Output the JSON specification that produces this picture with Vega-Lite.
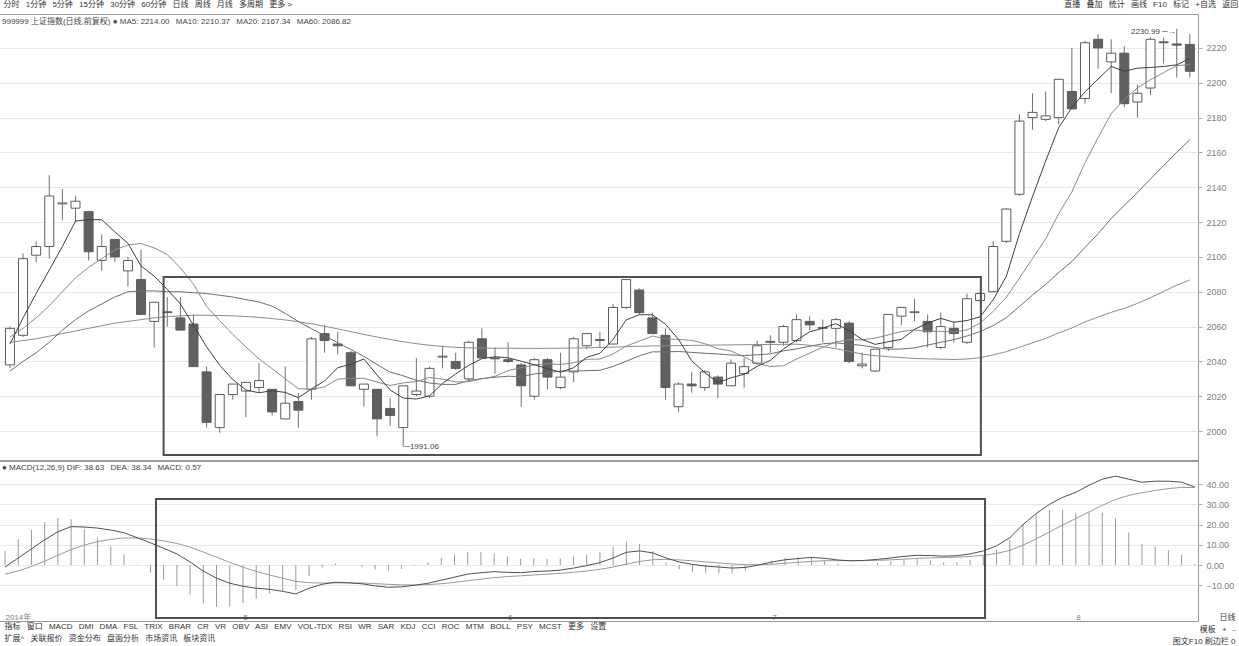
{
  "$schema": "https://vega.github.io/schema/vega-lite/v6.json",
  "padding": {"left": -3, "top": 0, "right": 0, "bottom": 0},
  "background": "white",
  "spacing": -3,
  "config": {
    "font": "Liberation Sans, Noto Sans CJK SC, sans-serif",
    "view": {"stroke": "#9a9a9a"},
    "title": {"fontWeight": "normal", "fontSize": 8, "color": "#333", "anchor": "start", "font": "Liberation Sans, Noto Sans CJK SC, sans-serif"},
    "axis": {"labelColor": "#808080", "labelFontSize": 9, "tickColor": "#aaaaaa", "domainColor": "#9a9a9a", "gridColor": "#e9e9e9", "labelFont": "Liberation Sans, Noto Sans CJK SC, sans-serif", "titleFont": "Liberation Sans, Noto Sans CJK SC, sans-serif", "labelOverlap": false}
  },
  "title": {
    "text": "分时\u2002 1分钟\u2002 5分钟\u2002 15分钟\u2002 30分钟\u2002 60分钟\u2002 日线\u2002 周线\u2002 月线\u2002 多周期\u2002 更多 >\u2003\u2003\u2003\u2003\u2003\u2003\u2003\u2003\u2003\u2003\u2003\u2003\u2003\u2003\u2003\u2003\u2003\u2003\u2003\u2003\u2003\u2003\u2003\u2003\u2003\u2003\u2003\u2003\u2003\u2003\u2003\u2003\u2003\u2003\u2003\u2003\u2003\u2003\u2003\u2003\u2003\u2003\u2003\u2003\u2003\u2003\u2003\u2003\u2003\u2003\u2003\u2003\u2003\u2003\u2003\u2003\u2003\u2003\u2003\u2003\u2003\u2003\u2003\u2003\u2003\u2003\u2003\u2003\u2003\u2003\u2003\u2003\u2003\u2003\u2003\u2003\u2003\u2003\u2003\u2003\u2003\u2003\u2003\u2003\u2003\u2003\u2003\u2003\u2003\u2003\u2003\u2003\u2003\u2003\u2003\u2003\u2002直播\u2002 叠加\u2002 统计\u2002 画线\u2002 F10\u2002 标记\u2002 +自选\u2002 返回",
    "anchor": "start", "fontSize": 8, "offset": 5, "dx": 6, "color": "#333"
  },
  "datasets": {
    "k": [
      {"i":1,"o":2038,"h":2060,"l":2036,"c":2059,"m5":2050,"m10":2054,"m20":2034.5,"m60":2051,"dif":-1,"dea":-4.5,"macd":7},
      {"i":2,"o":2055,"h":2102,"l":2054,"c":2099,"m5":2065,"m10":2059,"m20":2040,"m60":2052,"dif":3.5,"dea":-2.9,"macd":12.8},
      {"i":3,"o":2101,"h":2109,"l":2097,"c":2106,"m5":2079,"m10":2065,"m20":2045,"m60":2053,"dif":8,"dea":-0.72,"macd":17.44},
      {"i":4,"o":2106,"h":2147,"l":2099,"c":2135,"m5":2092.5,"m10":2072,"m20":2051,"m60":2054.5,"dif":12.5,"dea":1.92,"macd":21.16},
      {"i":5,"o":2130.5,"h":2139,"l":2121,"c":2131,"m5":2106,"m10":2080,"m20":2058,"m60":2056,"dif":16.5,"dea":4.84,"macd":23.32},
      {"i":6,"o":2128,"h":2135,"l":2120,"c":2132,"m5":2120.6,"m10":2088,"m20":2064,"m60":2057.5,"dif":19,"dea":7.67,"macd":22.66},
      {"i":7,"o":2126,"h":2126,"l":2098,"c":2103,"m5":2121.4,"m10":2094,"m20":2069,"m60":2059,"dif":18.8,"dea":9.9,"macd":17.8},
      {"i":8,"o":2098,"h":2113,"l":2092,"c":2106,"m5":2121.4,"m10":2099,"m20":2073,"m60":2060.5,"dif":18.3,"dea":11.58,"macd":13.44},
      {"i":9,"o":2110,"h":2110,"l":2097,"c":2100,"m5":2114.4,"m10":2104,"m20":2077,"m60":2062,"dif":17.3,"dea":12.72,"macd":9.16},
      {"i":10,"o":2092,"h":2100,"l":2083,"c":2098,"m5":2107.8,"m10":2106.9,"m20":2080,"m60":2063,"dif":16,"dea":13.38,"macd":5.24},
      {"i":11,"o":2087,"h":2104,"l":2067,"c":2067,"m5":2094.8,"m10":2107.7,"m20":2080.5,"m60":2064,"dif":13.5,"dea":13.4,"macd":0.2},
      {"i":12,"o":2063,"h":2074,"l":2048,"c":2074,"m5":2089,"m10":2105.2,"m20":2080.5,"m60":2065,"dif":11,"dea":12.92,"macd":-3.84},
      {"i":13,"o":2068.5,"h":2077,"l":2060,"c":2068,"m5":2081.4,"m10":2101.4,"m20":2080,"m60":2065.7,"dif":8.3,"dea":12,"macd":-7.4},
      {"i":14,"o":2065,"h":2077,"l":2058,"c":2058,"m5":2073,"m10":2093.7,"m20":2080,"m60":2066.2,"dif":5.5,"dea":10.7,"macd":-10.4},
      {"i":15,"o":2061.5,"h":2067,"l":2037,"c":2037,"m5":2060.8,"m10":2084.3,"m20":2079.5,"m60":2066.5,"dif":1.5,"dea":8.86,"macd":-14.72},
      {"i":16,"o":2034,"h":2037,"l":2002,"c":2005,"m5":2048.4,"m10":2071.6,"m20":2079,"m60":2066.5,"dif":-3,"dea":6.49,"macd":-18.98},
      {"i":17,"o":2002,"h":2021,"l":1999,"c":2021,"m5":2037.8,"m10":2063.4,"m20":2078,"m60":2066.4,"dif":-6.5,"dea":3.89,"macd":-20.78},
      {"i":18,"o":2021,"h":2027,"l":2018,"c":2027,"m5":2029.6,"m10":2055.5,"m20":2077,"m60":2066.2,"dif":-9,"dea":1.31,"macd":-20.62},
      {"i":19,"o":2023,"h":2028,"l":2008,"c":2028,"m5":2023.6,"m10":2048.3,"m20":2075.5,"m60":2065.8,"dif":-10.5,"dea":-1.05,"macd":-18.9},
      {"i":20,"o":2025,"h":2039,"l":2022,"c":2029,"m5":2022,"m10":2041.4,"m20":2074.15,"m60":2065.3,"dif":-11.5,"dea":-3.14,"macd":-16.72},
      {"i":21,"o":2024,"h":2024,"l":2009,"c":2011,"m5":2023.2,"m10":2035.8,"m20":2071.75,"m60":2064.6,"dif":-12,"dea":-4.91,"macd":-14.18},
      {"i":22,"o":2007,"h":2037,"l":2007,"c":2016,"m5":2022.2,"m10":2030,"m20":2067.6,"m60":2063.8,"dif":-13,"dea":-6.53,"macd":-12.94},
      {"i":23,"o":2017,"h":2022,"l":2002,"c":2012,"m5":2019.2,"m10":2024.4,"m20":2062.9,"m60":2062.8,"dif":-14.3,"dea":-8.08,"macd":-12.44},
      {"i":24,"o":2024,"h":2054,"l":2018,"c":2053,"m5":2024.2,"m10":2023.9,"m20":2058.8,"m60":2061.6,"dif":-11.5,"dea":-8.77,"macd":-5.46},
      {"i":25,"o":2056,"h":2061,"l":2045,"c":2052,"m5":2028.8,"m10":2025.4,"m20":2054.85,"m60":2060.2,"dif":-9.5,"dea":-8.91,"macd":-1.18},
      {"i":26,"o":2050,"h":2057,"l":2044,"c":2049,"m5":2036.4,"m10":2029.8,"m20":2050.7,"m60":2058.7,"dif":-8.5,"dea":-8.83,"macd":0.66},
      {"i":27,"o":2045,"h":2046,"l":2026,"c":2026,"m5":2038.4,"m10":2030.3,"m20":2046.85,"m60":2057.1,"dif":-8.8,"dea":-8.82,"macd":0.04},
      {"i":28,"o":2024,"h":2027,"l":2014,"c":2027,"m5":2041.4,"m10":2030.3,"m20":2042.9,"m60":2055.5,"dif":-9.3,"dea":-8.92,"macd":-0.76},
      {"i":29,"o":2024,"h":2024,"l":1997,"c":2007,"m5":2032.2,"m10":2028.2,"m20":2038.25,"m60":2054,"dif":-10.3,"dea":-9.19,"macd":-2.22},
      {"i":30,"o":2013,"h":2019,"l":2003,"c":2009,"m5":2023.6,"m10":2026.2,"m20":2033.8,"m60":2052.6,"dif":-11,"dea":-9.55,"macd":-2.9},
      {"i":31,"o":2002,"h":2026,"l":1991.06,"c":2026,"m5":2019,"m10":2027.7,"m20":2031.75,"m60":2051.3,"dif":-10.8,"dea":-9.8,"macd":-2},
      {"i":32,"o":2021,"h":2042,"l":2020,"c":2023,"m5":2018.4,"m10":2028.4,"m20":2029.2,"m60":2050.2,"dif":-10,"dea":-9.84,"macd":-0.32},
      {"i":33,"o":2020,"h":2037,"l":2019,"c":2036,"m5":2020.2,"m10":2030.8,"m20":2027.6,"m60":2049.3,"dif":-9,"dea":-9.67,"macd":1.34},
      {"i":34,"o":2042.5,"h":2049,"l":2036,"c":2043,"m5":2027.4,"m10":2029.8,"m20":2026.85,"m60":2048.6,"dif":-7.5,"dea":-9.24,"macd":3.48},
      {"i":35,"o":2040,"h":2045,"l":2035,"c":2036,"m5":2032.8,"m10":2028.2,"m20":2026.8,"m60":2048.1,"dif":-6,"dea":-8.59,"macd":5.18},
      {"i":36,"o":2030,"h":2052,"l":2029,"c":2051,"m5":2037.8,"m10":2028.4,"m20":2029.1,"m60":2047.8,"dif":-4.5,"dea":-7.77,"macd":6.54},
      {"i":37,"o":2053,"h":2059,"l":2042,"c":2042,"m5":2041.6,"m10":2030,"m20":2030.15,"m60":2047.6,"dif":-3.8,"dea":-6.98,"macd":6.36},
      {"i":38,"o":2042,"h":2048,"l":2033,"c":2041.5,"m5":2042.7,"m10":2031.45,"m20":2030.9,"m60":2047.6,"dif":-3.3,"dea":-6.24,"macd":5.88},
      {"i":39,"o":2041,"h":2051,"l":2039,"c":2040,"m5":2042.1,"m10":2034.75,"m20":2031.5,"m60":2047.6,"dif":-3.6,"dea":-5.71,"macd":4.22},
      {"i":40,"o":2038,"h":2039,"l":2014,"c":2026,"m5":2040.1,"m10":2036.45,"m20":2031.3,"m60":2047.5,"dif":-3.8,"dea":-5.33,"macd":3.06},
      {"i":41,"o":2020,"h":2042,"l":2018,"c":2041,"m5":2038.1,"m10":2037.95,"m20":2032.8,"m60":2047.5,"dif":-3.2,"dea":-4.9,"macd":3.4},
      {"i":42,"o":2041,"h":2042,"l":2024,"c":2031,"m5":2035.9,"m10":2038.75,"m20":2033.6,"m60":2047.5,"dif":-3,"dea":-4.52,"macd":3.04},
      {"i":43,"o":2025,"h":2045,"l":2024,"c":2031,"m5":2033.8,"m10":2038.25,"m20":2034.5,"m60":2047.6,"dif":-2.5,"dea":-4.12,"macd":3.24},
      {"i":44,"o":2034,"h":2054,"l":2028,"c":2053,"m5":2036.4,"m10":2039.25,"m20":2034.5,"m60":2047.7,"dif":-1.5,"dea":-3.6,"macd":4.2},
      {"i":45,"o":2049,"h":2056,"l":2047,"c":2056,"m5":2042.4,"m10":2041.25,"m20":2034.7,"m60":2047.8,"dif":-0.3,"dea":-2.94,"macd":5.28},
      {"i":46,"o":2052.5,"h":2057,"l":2048,"c":2052,"m5":2044.6,"m10":2041.35,"m20":2034.9,"m60":2048,"dif":1.2,"dea":-2.11,"macd":6.62},
      {"i":47,"o":2050,"h":2073,"l":2050,"c":2071,"m5":2052.6,"m10":2044.25,"m20":2037.1,"m60":2048.2,"dif":3.5,"dea":-0.99,"macd":8.98},
      {"i":48,"o":2071,"h":2087,"l":2070,"c":2087,"m5":2063.8,"m10":2048.8,"m20":2040.1,"m60":2048.5,"dif":6.3,"dea":0.47,"macd":11.66},
      {"i":49,"o":2081,"h":2082,"l":2067,"c":2068,"m5":2066.8,"m10":2051.6,"m20":2043.2,"m60":2048.7,"dif":7,"dea":1.78,"macd":10.44},
      {"i":50,"o":2065,"h":2068,"l":2056,"c":2056,"m5":2066.8,"m10":2054.6,"m20":2045.5,"m60":2048.9,"dif":6,"dea":2.62,"macd":6.76},
      {"i":51,"o":2055,"h":2059,"l":2018,"c":2025,"m5":2061.4,"m10":2053,"m20":2045.5,"m60":2049,"dif":3.5,"dea":2.8,"macd":1.4},
      {"i":52,"o":2014,"h":2028,"l":2011,"c":2027,"m5":2052.6,"m10":2052.6,"m20":2045.7,"m60":2049.1,"dif":1.5,"dea":2.54,"macd":-2.08},
      {"i":53,"o":2027,"h":2034,"l":2022,"c":2026,"m5":2040.4,"m10":2052.1,"m20":2045.2,"m60":2049.2,"dif":0.3,"dea":2.09,"macd":-3.58},
      {"i":54,"o":2025,"h":2035,"l":2023,"c":2034,"m5":2033.6,"m10":2050.2,"m20":2044.7,"m60":2049.3,"dif":-0.5,"dea":1.57,"macd":-4.14},
      {"i":55,"o":2031,"h":2032,"l":2019,"c":2027,"m5":2027.8,"m10":2047.3,"m20":2044.3,"m60":2049.4,"dif":-1,"dea":1.06,"macd":-4.12},
      {"i":56,"o":2026,"h":2041,"l":2026,"c":2039,"m5":2030.6,"m10":2046,"m20":2043.7,"m60":2049.5,"dif":-1.5,"dea":0.55,"macd":-4.1},
      {"i":57,"o":2033,"h":2042,"l":2025,"c":2037,"m5":2032.6,"m10":2042.6,"m20":2043.4,"m60":2049.6,"dif":-1.2,"dea":0.2,"macd":-2.8},
      {"i":58,"o":2039,"h":2052,"l":2038,"c":2049,"m5":2037.2,"m10":2038.8,"m20":2043.8,"m60":2049.7,"dif":0,"dea":0.16,"macd":-0.32},
      {"i":59,"o":2051.5,"h":2055,"l":2045,"c":2051,"m5":2040.6,"m10":2037.1,"m20":2044.35,"m60":2049.75,"dif":1.5,"dea":0.43,"macd":2.14},
      {"i":60,"o":2051,"h":2061,"l":2049,"c":2060,"m5":2047.2,"m10":2037.5,"m20":2046.05,"m60":2049.8,"dif":2.6,"dea":0.86,"macd":3.48},
      {"i":61,"o":2052,"h":2067,"l":2051,"c":2064,"m5":2052.2,"m10":2041.4,"m20":2047.2,"m60":2049.9,"dif":3.2,"dea":1.33,"macd":3.74},
      {"i":62,"o":2063,"h":2066,"l":2058,"c":2061,"m5":2057,"m10":2044.8,"m20":2048.7,"m60":2049.3,"dif":3.8,"dea":1.82,"macd":3.96},
      {"i":63,"o":2059,"h":2064,"l":2051,"c":2059.5,"m5":2059.1,"m10":2048.15,"m20":2050.1,"m60":2048.5,"dif":3.3,"dea":2.12,"macd":2.36},
      {"i":64,"o":2059,"h":2065,"l":2048,"c":2064,"m5":2061.7,"m10":2051.15,"m20":2050.7,"m60":2047.3,"dif":2.5,"dea":2.2,"macd":0.6},
      {"i":65,"o":2062,"h":2063,"l":2039,"c":2040,"m5":2057.7,"m10":2052.45,"m20":2049.9,"m60":2045.8,"dif":2.1,"dea":2.18,"macd":-0.16},
      {"i":66,"o":2037.5,"h":2045,"l":2036,"c":2038.5,"m5":2052.6,"m10":2052.4,"m20":2049.2,"m60":2044.2,"dif":2.3,"dea":2.2,"macd":0.2},
      {"i":67,"o":2034.5,"h":2047,"l":2034,"c":2047,"m5":2049.8,"m10":2053.4,"m20":2048,"m60":2043.3,"dif":2.8,"dea":2.32,"macd":0.96},
      {"i":68,"o":2048,"h":2067,"l":2046,"c":2067,"m5":2051.3,"m10":2055.2,"m20":2047,"m60":2042.7,"dif":3.5,"dea":2.56,"macd":1.88},
      {"i":69,"o":2066,"h":2071,"l":2061,"c":2071,"m5":2052.7,"m10":2057.2,"m20":2047.15,"m60":2042.2,"dif":4.3,"dea":2.91,"macd":2.78},
      {"i":70,"o":2068,"h":2076,"l":2063,"c":2068.5,"m5":2058.4,"m10":2058.05,"m20":2047.8,"m60":2041.7,"dif":4.8,"dea":3.29,"macd":3.02},
      {"i":71,"o":2063,"h":2067,"l":2048,"c":2057,"m5":2062.1,"m10":2057.35,"m20":2049.4,"m60":2041.5,"dif":4.7,"dea":3.57,"macd":2.26},
      {"i":72,"o":2048,"h":2068,"l":2047,"c":2060,"m5":2064.7,"m10":2057.25,"m20":2051,"m60":2041.3,"dif":4.4,"dea":3.74,"macd":1.32},
      {"i":73,"o":2059,"h":2063,"l":2051,"c":2056,"m5":2062.5,"m10":2056.9,"m20":2052.5,"m60":2041.1,"dif":4.6,"dea":3.91,"macd":1.38},
      {"i":74,"o":2051,"h":2079,"l":2050,"c":2076,"m5":2063.5,"m10":2058.1,"m20":2054.6,"m60":2041.4,"dif":5.5,"dea":4.23,"macd":2.54},
      {"i":75,"o":2075,"h":2080,"l":2074,"c":2079,"m5":2065.6,"m10":2062,"m20":2057.2,"m60":2042.1,"dif":7,"dea":4.78,"macd":4.44},
      {"i":76,"o":2080,"h":2109,"l":2080,"c":2106,"m5":2075.4,"m10":2068.75,"m20":2060.6,"m60":2043.8,"dif":9.5,"dea":5.72,"macd":7.56},
      {"i":77,"o":2109,"h":2128,"l":2108,"c":2127.5,"m5":2088.9,"m10":2076.8,"m20":2065.1,"m60":2045.6,"dif":13.5,"dea":7.28,"macd":12.44},
      {"i":78,"o":2136,"h":2182,"l":2135,"c":2178,"m5":2113.3,"m10":2087.9,"m20":2071.55,"m60":2048.1,"dif":20,"dea":9.82,"macd":20.36},
      {"i":79,"o":2180,"h":2194,"l":2173,"c":2183,"m5":2134.7,"m10":2099.1,"m20":2078.15,"m60":2050.7,"dif":25.5,"dea":12.96,"macd":25.08},
      {"i":80,"o":2179,"h":2195,"l":2178,"c":2181,"m5":2155.1,"m10":2110.35,"m20":2084.2,"m60":2053.2,"dif":30,"dea":16.37,"macd":27.26},
      {"i":81,"o":2180,"h":2202,"l":2176,"c":2202,"m5":2174.3,"m10":2124.85,"m20":2091.1,"m60":2056.4,"dif":33.5,"dea":19.8,"macd":27.4},
      {"i":82,"o":2195,"h":2220,"l":2185,"c":2185,"m5":2185.8,"m10":2137.35,"m20":2097.3,"m60":2059.2,"dif":36,"dea":23.04,"macd":25.92},
      {"i":83,"o":2191,"h":2224,"l":2188,"c":2223,"m5":2194.8,"m10":2154.05,"m20":2105.5,"m60":2062.7,"dif":39.5,"dea":26.33,"macd":26.34},
      {"i":84,"o":2225,"h":2228,"l":2208,"c":2220,"m5":2202.2,"m10":2168.45,"m20":2113.3,"m60":2065.5,"dif":42.5,"dea":29.56,"macd":25.88},
      {"i":85,"o":2212,"h":2225,"l":2194,"c":2217,"m5":2209.4,"m10":2182.25,"m20":2122.1,"m60":2068.2,"dif":44,"dea":32.45,"macd":23.1},
      {"i":86,"o":2217,"h":2221,"l":2186,"c":2188,"m5":2206.6,"m10":2190.45,"m20":2129.6,"m60":2070.5,"dif":42.5,"dea":34.46,"macd":16.08},
      {"i":87,"o":2189,"h":2199,"l":2180,"c":2194,"m5":2208.4,"m10":2197.1,"m20":2136.95,"m60":2073.3,"dif":41,"dea":35.77,"macd":10.46},
      {"i":88,"o":2197,"h":2226,"l":2193,"c":2225,"m5":2208.8,"m10":2201.8,"m20":2144.85,"m60":2076.6,"dif":41.5,"dea":36.92,"macd":9.16},
      {"i":89,"o":2223.5,"h":2226,"l":2211,"c":2223,"m5":2209.4,"m10":2205.8,"m20":2152.45,"m60":2080.2,"dif":41.5,"dea":37.83,"macd":7.34},
      {"i":90,"o":2222.3,"h":2230.99,"l":2203,"c":2221.6,"m5":2210.3,"m10":2209.86,"m20":2160.1,"m60":2083.8,"dif":41,"dea":38.47,"macd":5.06},
      {"i":91,"o":2222,"h":2228,"l":2203,"c":2206.6,"m5":2214,"m10":2210.37,"m20":2167.34,"m60":2086.82,"dif":38.63,"dea":38.34,"macd":0.57}
    ]
  },
  "vconcat": [
    {
      "width": 1200,
      "height": 446,
      "title": {"text": "999999 上证指数(日线,前复权) ● MA5: 2214.00\u2002 MA10: 2210.37\u2002 MA20: 2167.34\u2002 MA60: 2086.82", "anchor": "start", "offset": -12, "dx": 4, "fontSize": 8, "color": "#444"},
      "data": {"name": "k"},
      "encoding": {
        "x": {"field": "i", "type": "quantitative", "scale": {"domain": [0.47, 91.24], "nice": false, "zero": false}, "axis": null}
      },
      "layer": [
        {
          "mark": {"type": "rule", "color": "#707070", "strokeWidth": 1},
          "encoding": {
            "y": {"field": "l", "type": "quantitative", "title": null, "scale": {"domain": [1983.4, 2239.5], "nice": false, "zero": false},
                  "axis": {"orient": "right", "values": [2000,2010,2020,2030,2040,2050,2060,2070,2080,2090,2100,2110,2120,2130,2140,2150,2160,2170,2180,2190,2200,2210,2220], "format": "d", "title": null, "grid": true, "gridOpacity": {"condition": {"test": "datum.value % 20 === 0", "value": 1}, "value": 0}, "tickSize": 4, "labelPadding": 4, "domain": false, "labelFontSize": 9, "labelOverlap": false}},
            "y2": {"field": "h"}
          }
        },
        {
          "mark": {"type": "bar", "width": 9, "stroke": "#5c5c5c", "strokeWidth": 1},
          "encoding": {
            "y": {"field": "o", "type": "quantitative", "title": null, "scale": {"domain": [1983.4, 2239.5], "nice": false, "zero": false}},
            "y2": {"field": "c"},
            "fill": {"condition": {"test": "datum.c >= datum.o", "value": "#ffffff"}, "value": "#606060"}
          }
        },
        {
          "mark": {"type": "line", "color": "#8c8c8c", "strokeWidth": 1},
          "encoding": {"y": {"field": "m60", "type": "quantitative", "title": null, "scale": {"domain": [1983.4, 2239.5], "nice": false, "zero": false}}}
        },
        {
          "mark": {"type": "line", "color": "#6e6e6e", "strokeWidth": 1},
          "encoding": {"y": {"field": "m20", "type": "quantitative", "title": null, "scale": {"domain": [1983.4, 2239.5], "nice": false, "zero": false}}}
        },
        {
          "mark": {"type": "line", "color": "#8a8a8a", "strokeWidth": 1},
          "encoding": {"y": {"field": "m10", "type": "quantitative", "title": null, "scale": {"domain": [1983.4, 2239.5], "nice": false, "zero": false}}}
        },
        {
          "mark": {"type": "line", "color": "#404040", "strokeWidth": 1},
          "encoding": {"y": {"field": "m5", "type": "quantitative", "title": null, "scale": {"domain": [1983.4, 2239.5], "nice": false, "zero": false}}}
        },
        {
          "data": {"values": [{"x1": 12.72, "x2": 75.06, "y1": 1986.2, "y2": 2088.5}]},
          "mark": {"type": "rect", "fill": null, "fillOpacity": 0, "stroke": "#505050", "strokeWidth": 2},
          "encoding": {
            "x": {"field": "x1", "type": "quantitative", "scale": {"domain": [0.47, 91.24], "nice": false, "zero": false}, "axis": null},
            "x2": {"field": "x2"},
            "y": {"field": "y1", "type": "quantitative", "title": null, "scale": {"domain": [1983.4, 2239.5], "nice": false, "zero": false}},
            "y2": {"field": "y2"}
          }
        },
        {
          "data": {"values": [{"i": 31, "p": 1991.06, "t": "─1991.06"}]},
          "mark": {"type": "text", "align": "left", "baseline": "middle", "dx": 1, "fontSize": 8, "color": "#444"},
          "encoding": {
            "x": {"field": "i", "type": "quantitative", "scale": {"domain": [0.47, 91.24], "nice": false, "zero": false}, "axis": null},
            "y": {"field": "p", "type": "quantitative", "title": null, "scale": {"domain": [1983.4, 2239.5], "nice": false, "zero": false}},
            "text": {"field": "t"}
          }
        },
        {
          "data": {"values": [{"i": 90, "p": 2230.99, "t": "2230.99 ─→"}]},
          "mark": {"type": "text", "align": "right", "baseline": "middle", "dx": -1, "dy": 3, "fontSize": 8, "color": "#444"},
          "encoding": {
            "x": {"field": "i", "type": "quantitative", "scale": {"domain": [0.47, 91.24], "nice": false, "zero": false}, "axis": null},
            "y": {"field": "p", "type": "quantitative", "title": null, "scale": {"domain": [1983.4, 2239.5], "nice": false, "zero": false}},
            "text": {"field": "t"}
          }
        }
      ]
    },
    {
      "width": 1200,
      "height": 160,
      "title": {"text": "● MACD(12,26,9) DIF: 38.63\u2002 DEA: 38.34\u2002 MACD: 0.57", "anchor": "start", "offset": -11, "dx": 4, "fontSize": 8, "color": "#444"},
      "data": {"name": "k"},
      "encoding": {
        "x": {"field": "i", "type": "quantitative", "scale": {"domain": [0.47, 91.24], "nice": false, "zero": false},
              "axis": {"orient": "bottom", "values": [1, 19, 39, 59, 82], "labelExpr": "datum.value == 1 ? '2014年' : datum.value == 19 ? '5' : datum.value == 39 ? '6' : datum.value == 59 ? '7' : '8'", "labelAlign": "left", "labelPadding": -8, "labelOverlap": false, "labelFlush": false, "ticks": false, "tickSize": 0, "domain": false, "grid": false, "labelFontSize": 8, "labelColor": "#808080",
                       "title": ["指标\u2002 窗口\u2002 MACD\u2002 DMI\u2002 DMA\u2002 FSL\u2002 TRIX\u2002 BRAR\u2002 CR\u2002 VR\u2002 OBV\u2002 ASI\u2002 EMV\u2002 VOL-TDX\u2002 RSI\u2002 WR\u2002 SAR\u2002 KDJ\u2002 CCI\u2002 ROC\u2002 MTM\u2002 BOLL\u2002 PSY\u2002 MCST\u2002 更多\u2002 设置", "扩展^\u2002 关联报价\u2002 资金分布\u2002 盘面分析\u2002 市场资讯\u2002 板块资讯"],
                       "titleAnchor": "start", "titleAlign": "left", "titleBaseline": "top", "titleX": 6, "titlePadding": 1, "titleFontSize": 8, "titleFontWeight": "normal", "titleColor": "#333", "titleLineHeight": 12}}
      },
      "layer": [
        {
          "mark": {"type": "rule", "color": "#9a9a9a", "strokeWidth": 1},
          "encoding": {
            "y": {"field": "macd", "type": "quantitative", "scale": {"domain": [-27.7, 51.5], "nice": false, "zero": false},
                  "axis": {"orient": "right", "values": [-10, 0, 10, 20, 30, 40], "format": ".2f", "grid": true, "tickSize": 4, "labelPadding": 4, "domain": false, "labelFontSize": 9, "labelOverlap": false,
                           "title": ["日线", "模板\u2002 +\u2002 -", "图文F10 刷边栏 0"], "titleAngle": 0, "titleAlign": "right", "titleBaseline": "top", "titleX": 37, "titleY": 152, "titleFontSize": 8, "titleFontWeight": "normal", "titleColor": "#333", "titleLineHeight": 12}},
            "y2": {"datum": 0}
          }
        },
        {
          "mark": {"type": "line", "color": "#9a9a9a", "strokeWidth": 1},
          "encoding": {"y": {"field": "dea", "type": "quantitative", "scale": {"domain": [-27.7, 51.5], "nice": false, "zero": false},
                  "axis": {"orient": "right", "values": [-10, 0, 10, 20, 30, 40], "format": ".2f", "grid": true, "tickSize": 4, "labelPadding": 4, "domain": false, "labelFontSize": 9, "labelOverlap": false,
                           "title": ["日线", "模板\u2002 +\u2002 -", "图文F10 刷边栏 0"], "titleAngle": 0, "titleAlign": "right", "titleBaseline": "top", "titleX": 37, "titleY": 152, "titleFontSize": 8, "titleFontWeight": "normal", "titleColor": "#333", "titleLineHeight": 12}}}
        },
        {
          "mark": {"type": "line", "color": "#505050", "strokeWidth": 1},
          "encoding": {"y": {"field": "dif", "type": "quantitative", "scale": {"domain": [-27.7, 51.5], "nice": false, "zero": false},
                  "axis": {"orient": "right", "values": [-10, 0, 10, 20, 30, 40], "format": ".2f", "grid": true, "tickSize": 4, "labelPadding": 4, "domain": false, "labelFontSize": 9, "labelOverlap": false,
                           "title": ["日线", "模板\u2002 +\u2002 -", "图文F10 刷边栏 0"], "titleAngle": 0, "titleAlign": "right", "titleBaseline": "top", "titleX": 37, "titleY": 152, "titleFontSize": 8, "titleFontWeight": "normal", "titleColor": "#333", "titleLineHeight": 12}}}
        },
        {
          "data": {"values": [{"x1": 12.42, "x2": 75.13, "y1": -26.2, "y2": 32.7}]},
          "mark": {"type": "rect", "fill": null, "fillOpacity": 0, "stroke": "#505050", "strokeWidth": 2},
          "encoding": {
            "x": {"field": "x1", "type": "quantitative", "scale": {"domain": [0.47, 91.24], "nice": false, "zero": false}},
            "x2": {"field": "x2"},
            "y": {"field": "y1", "type": "quantitative", "scale": {"domain": [-27.7, 51.5], "nice": false, "zero": false},
                  "axis": {"orient": "right", "values": [-10, 0, 10, 20, 30, 40], "format": ".2f", "grid": true, "tickSize": 4, "labelPadding": 4, "domain": false, "labelFontSize": 9, "labelOverlap": false,
                           "title": ["日线", "模板\u2002 +\u2002 -", "图文F10 刷边栏 0"], "titleAngle": 0, "titleAlign": "right", "titleBaseline": "top", "titleX": 37, "titleY": 152, "titleFontSize": 8, "titleFontWeight": "normal", "titleColor": "#333", "titleLineHeight": 12}},
            "y2": {"field": "y2"}
          }
        }
      ]
    }
  ]
}
